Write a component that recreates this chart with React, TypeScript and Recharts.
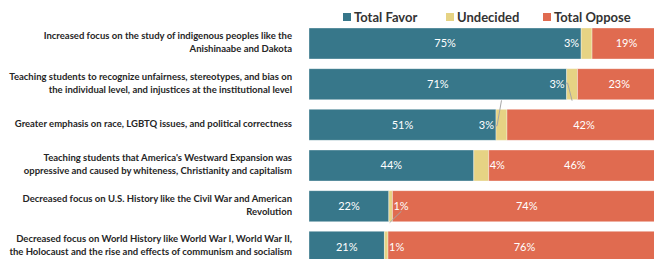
import React from 'react';
import { BarChart, Bar, XAxis, YAxis, Legend, LabelList } from 'recharts';

const categories = [
  'Increased focus on the study of indigenous peoples like the\nAnishinaabe and Dakota',
  'Teaching students to recognize unfairness, stereotypes, and bias on\nthe individual level, and injustices at the institutional level',
  'Greater emphasis on race, LGBTQ issues, and political correctness',
  "Teaching students that America's Westward Expansion was\noppressive and caused by whiteness, Christianity and capitalism",
  'Decreased focus on U.S. History like the Civil War and American\nRevolution',
  'Decreased focus on World History like World War I, World War II,\nthe Holocaust and the rise and effects of communism and socialism',
];
const totalFavor = [75, 71, 51, 44, 22, 21];
const undecided = [3, 3, 3, 4, 1, 1];
const totalOppose = [19, 23, 42, 46, 74, 76];
const seriesNames = ['Total Favor', 'Undecided', 'Total Oppose'];

// leader-line style for the small "Undecided" labels (Excel-style callouts)
const leaderStyle = ['none', 'down', 'up', 'none', 'diag', 'none'];

const COLORS = ['#37778a', '#e6d384', '#e06b50'];
const FONT = "Lato, 'Open Sans', sans-serif";

const data = categories.map((c, i) => ({
  category: c,
  favor: totalFavor[i],
  undecided: undecided[i],
  oppose: totalOppose[i],
}));

const CategoryTick = (props: any) => {
  const { x, y, payload } = props;
  const lines = String(payload.value).split('\n');
  const lh = 13;
  const y0 = y - ((lines.length - 1) * lh) / 2 - 1;
  return (
    <text x={x} y={y0} textAnchor="end" fontFamily={FONT} fontWeight="bold" fontSize={9.5} fill="#262626">
      {lines.map((l, i) => (
        <tspan key={i} x={x} dy={i === 0 ? '0.35em' : lh}>
          {l}
        </tspan>
      ))}
    </text>
  );
};

const pct = (v: any) => `${v}%`;

const UndecidedLabel = (props: any) => {
  const { x, y, width, height, index } = props;
  const left = totalFavor[index] > 50;
  const tx = left ? x - 2 : x + width + 1;
  const cy = y + height / 2;
  const mid = x + width / 2;
  const style = leaderStyle[index];
  let path: string | null = null;
  if (style === 'down') path = `M${tx + 1},${cy - 1} L${tx + 3},${cy - 1} L${mid},${y + height + 1}`;
  if (style === 'up') path = `M${tx + 1},${cy + 1} L${tx + 3},${cy + 1} L${mid},${y - 9}`;
  if (style === 'diag') path = `M${mid - 1},${y + height + 1} L${tx + 8},${cy + 5}`;
  return (
    <g>
      {path && <path d={path} fill="none" stroke="#a6a6a6" strokeWidth={1} />}
      <text
        x={tx}
        y={cy}
        dy="0.35em"
        textAnchor={left ? 'end' : 'start'}
        fill="#ffffff"
        fontFamily={FONT}
        fontSize={11}
      >
        {pct(undecided[index])}
      </text>
    </g>
  );
};

const SeriesLabel = (values: number[]) => (props: any) => {
  const { x, y, width, height, index } = props;
  return (
    <text
      x={x + width / 2}
      y={y + height / 2}
      dy="0.35em"
      textAnchor="middle"
      fill="#ffffff"
      fontFamily={FONT}
      fontSize={11}
    >
      {pct(values[index])}
    </text>
  );
};

const LegendContent = () => (
  <div style={{ display: 'flex', height: 16, alignItems: 'center', fontFamily: FONT, fontWeight: 'bold', fontSize: 13, color: '#333333' }}>
    {seriesNames.map((n, i) => (
      <div key={n} style={{ display: 'flex', alignItems: 'center', width: i < 2 ? [103, 97][i] : 'auto' }}>
        <span style={{ display: 'inline-block', width: 8, height: 8, background: COLORS[i], marginRight: 3 }} />
        <span>{n}</span>
      </div>
    ))}
  </div>
);

export default function App() {
  return (
    <div style={{ position: 'absolute', left: 0, top: 0, width: 654, height: 259, overflow: 'hidden', background: '#fff' }}>
      <BarChart
        width={669}
        height={267}
        data={data}
        layout="vertical"
        stackOffset="expand"
        margin={{ top: 7, right: 8, left: 0, bottom: 0 }}
        barSize={31}
      >
        <XAxis type="number" domain={[0, 1]} hide />
        <YAxis
          type="category"
          dataKey="category"
          width={309}
          axisLine={false}
          tickLine={false}
          tickSize={0}
          tickMargin={17}
          interval={0}
          tick={CategoryTick}
        />
        <Legend
          verticalAlign="top"
          content={LegendContent}
          wrapperStyle={{ top: 9, left: 343, width: 'auto', height: 16 }}
        />
        <Bar dataKey="favor" stackId="a" fill={COLORS[0]} stroke="#ffffff" strokeOpacity={0.35} isAnimationActive={false}>
          <LabelList dataKey="favor" content={SeriesLabel(totalFavor)} />
        </Bar>
        <Bar dataKey="undecided" stackId="a" fill={COLORS[1]} stroke="#ffffff" strokeOpacity={0.35} isAnimationActive={false}>
          <LabelList dataKey="undecided" content={UndecidedLabel} />
        </Bar>
        <Bar dataKey="oppose" stackId="a" fill={COLORS[2]} stroke="#ffffff" strokeOpacity={0.35} isAnimationActive={false}>
          <LabelList dataKey="oppose" content={SeriesLabel(totalOppose)} />
        </Bar>
      </BarChart>
    </div>
  );
}
